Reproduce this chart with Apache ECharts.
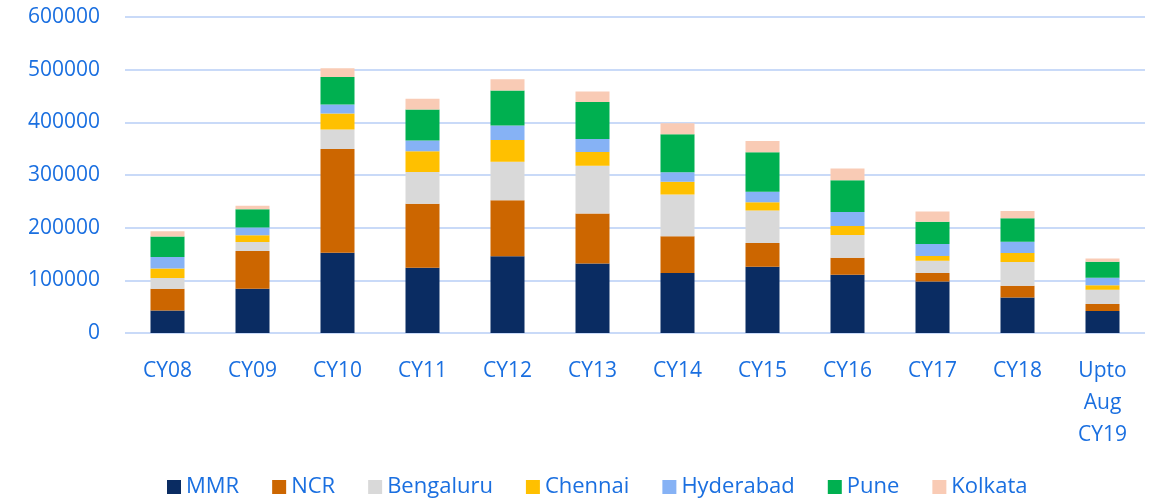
<!DOCTYPE html>
<html>
<head>
<meta charset="utf-8">
<script src="https://cdn.jsdelivr.net/npm/echarts@6/dist/echarts.min.js"></script>
<style>
  html, body { margin: 0; padding: 0; background: #fff; }
  #chart { width: 1153px; height: 503px; }
</style>
</head>
<body>
<div id="chart"></div>
<script>
  var categories = ['CY08', 'CY09', 'CY10', 'CY11', 'CY12', 'CY13', 'CY14', 'CY15', 'CY16', 'CY17', 'CY18', 'Upto\nAug\nCY19'];
  var mmr       = [42600, 83900, 152500, 123900, 145500, 132100, 113700, 125800, 110500, 97800, 67300, 41900];
  var ncr       = [41300, 71800, 196900, 121300, 106700, 94700, 69900, 45100, 32400, 15900, 22200, 13300];
  var bengaluru = [20300, 17100, 36900, 60400, 73100, 90900, 79400, 61600, 43100, 23400, 45100, 26700];
  var chennai   = [18400, 12700, 30500, 39400, 41300, 26000, 24200, 15900, 17200, 8900, 17100, 8900];
  var hyderabad = [21600, 14600, 17100, 20300, 27300, 24800, 17800, 19700, 26600, 22900, 21600, 14000];
  var pune      = [38800, 35000, 52100, 59100, 66700, 69900, 72400, 75000, 60400, 42500, 44500, 30400];
  var kolkata   = [10100, 6300, 16500, 20300, 21000, 20300, 20900, 21600, 22200, 19100, 13900, 6400];
  var yTicks = [0, 100000, 200000, 300000, 400000, 500000, 600000];

  var textBlue = '#1a6fe0';
  var font = '"Open Sans", "Noto Sans", sans-serif';

  var seriesDefs = [
    { name: 'MMR', data: mmr, color: '#0a2c62' },
    { name: 'NCR', data: ncr, color: '#cc6600' },
    { name: 'Bengaluru', data: bengaluru, color: '#d9d9d9' },
    { name: 'Chennai', data: chennai, color: '#ffc000' },
    { name: 'Hyderabad', data: hyderabad, color: '#86b2f5' },
    { name: 'Pune', data: pune, color: '#00b050' },
    { name: 'Kolkata', data: kolkata, color: '#f9cbb5' }
  ];

  var chart = echarts.init(document.getElementById('chart'));
  chart.setOption({
    animation: false,
    textStyle: { fontFamily: font },
    grid: { left: 125, right: 8, top: 17, bottom: 170 },
    legend: {
      bottom: 0,
      left: 162,
      itemWidth: 14,
      itemHeight: 14,
      itemGap: 33,
      icon: 'rect',
      textStyle: { color: textBlue, fontSize: 22, fontFamily: font }
    },
    xAxis: {
      type: 'category',
      data: categories,
      axisLine: { show: false },
      axisTick: { show: false },
      axisLabel: { color: textBlue, fontSize: 21, margin: 22, lineHeight: 32, interval: 0, fontFamily: font }
    },
    yAxis: {
      type: 'value',
      min: yTicks[0],
      max: yTicks[yTicks.length - 1],
      interval: 100000,
      axisLine: { show: false },
      axisTick: { show: false },
      axisLabel: {
        color: textBlue, fontSize: 21, margin: 25, fontFamily: font,
        formatter: function (v) { return String(v); }
      },
      splitLine: { lineStyle: { color: '#c9daf8', width: 2 } }
    },
    series: seriesDefs.map(function (s) {
      return {
        name: s.name,
        type: 'bar',
        stack: 'total',
        barWidth: '40%',
        data: s.data,
        itemStyle: { color: s.color }
      };
    })
  });
</script>
</body>
</html>
